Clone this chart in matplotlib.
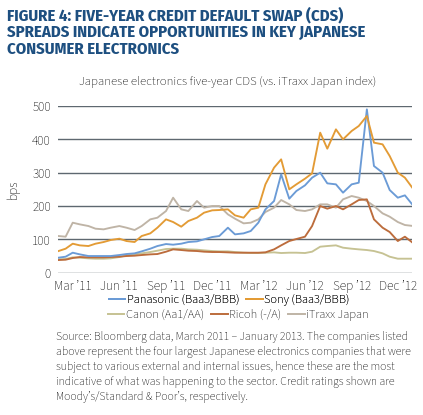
import matplotlib
matplotlib.use('Agg')
import matplotlib.pyplot as plt
import pandas as pd
from matplotlib.lines import Line2D

# ---- data (semi-monthly readings, bps) ----
dates = pd.date_range('2011-02-01', periods=47, freq='SMS')

panasonic = [45, 48, 60, 55, 50, 50, 50, 50, 53, 56, 58, 64, 72,
             80, 86, 84, 87, 92, 94, 100, 107, 110, 135, 115,
             118, 125, 150, 190, 215, 295, 222, 245, 262, 285, 300, 268,
             265, 240, 265, 270, 490, 320, 300, 248, 225, 232, 200]
sony = [65, 72, 87, 82, 80, 87, 92, 98, 102, 95, 92, 110, 118,
        135, 160, 152, 138, 155, 165, 180, 187, 188, 190, 172,
        165, 190, 195, 265, 315, 340, 250, 265, 282, 298, 420, 372,
        430, 400, 425, 440, 470, 390, 385, 350, 300, 285, 250]
canon = [40, 41, 46, 45, 43, 42, 42, 43, 47, 52, 55, 58, 62,
         66, 71, 72, 72, 70, 69, 67, 65, 64, 64, 62,
         60, 59, 59, 60, 61, 59, 60, 60, 59, 63, 78, 80,
         82, 75, 72, 70, 68, 65, 58, 48, 42, 42, 42]
ricoh = [38, 39, 44, 47, 46, 46, 46, 47, 48, 50, 51, 53, 55,
         56, 63, 70, 68, 66, 65, 63, 62, 62, 61, 60,
         60, 60, 60, 61, 70, 82, 95, 101, 108, 140, 200, 192,
         200, 190, 205, 218, 220, 160, 135, 122, 95, 108, 88]
itraxx = [110, 108, 150, 145, 140, 132, 130, 135, 140, 135, 128, 140, 160,
          165, 185, 225, 190, 185, 215, 195, 200, 200, 175, 162,
          148, 150, 160, 182, 195, 218, 205, 188, 185, 190, 205, 205,
          195, 220, 230, 225, 215, 200, 178, 168, 152, 143, 140]

series_names = ['Panasonic (Baa3/BBB)', 'Sony (Baa3/BBB)', 'Canon (Aa1/AA)',
                'Ricoh (-/A)', 'iTraxx Japan']
tick_dates = ['2011-03-01', '2011-06-01', '2011-09-01', '2011-12-01',
              '2012-03-01', '2012-06-01', '2012-09-01', '2012-12-01']
tick_labels = ['Mar \u201911', 'Jun \u201911', 'Sep \u201911', 'Dec \u201911',
               'Mar \u201912', 'Jun \u201912', 'Sep \u201912', 'Dec \u201912']
y_ticks = [0, 100, 200, 300, 400, 500]

colors = {'Panasonic (Baa3/BBB)': '#6b9bd6', 'Sony (Baa3/BBB)': '#e39b35',
          'Canon (Aa1/AA)': '#c6c293', 'Ricoh (-/A)': '#bc6c3c',
          'iTraxx Japan': '#bfb4a6'}

FONT = ['Source Sans 3', 'DejaVu Sans']
TITLE_FONT = ['Fira Sans Condensed', 'Source Sans 3', 'DejaVu Sans']
plt.rcParams['font.family'] = FONT
TXT = '#000000'

W, H = 423, 415
fig = plt.figure(figsize=(W / 100, H / 100), dpi=100)
ax = fig.add_axes([58 / W, 1 - 272.7 / H, (412 - 58) / W, (272.7 - 106) / H])

data = {'Panasonic (Baa3/BBB)': panasonic, 'Sony (Baa3/BBB)': sony,
        'Canon (Aa1/AA)': canon, 'Ricoh (-/A)': ricoh, 'iTraxx Japan': itraxx}
order = ['iTraxx Japan', 'Canon (Aa1/AA)', 'Ricoh (-/A)', 'Panasonic (Baa3/BBB)', 'Sony (Baa3/BBB)']
for name in order:
    ax.plot(dates, data[name], color=colors[name], lw=1.35, zorder=3)

ax.set_ylim(0, 500)
ax.set_yticks(y_ticks)
ax.set_xlim(pd.Timestamp('2011-01-31'), pd.Timestamp('2012-12-29'))
ax.set_xticks(pd.to_datetime(tick_dates))
ax.set_xticklabels(tick_labels)
ax.tick_params(axis='both', length=0, labelsize=9.5, colors=TXT)
ax.tick_params(axis='x', pad=5)
ax.tick_params(axis='y', pad=5)
ax.grid(axis='y', color='#5e6870', lw=1.0, zorder=1)
ax.grid(axis='x', visible=False)
for s in ax.spines.values():
    s.set_visible(False)
ax.set_ylabel('bps', fontsize=9.5, labelpad=9, color=TXT)

# Titles
title_lines = ['FIGURE 4: FIVE-YEAR CREDIT DEFAULT SWAP (CDS)',
               'SPREADS INDICATE OPPORTUNITIES IN KEY JAPANESE',
               'CONSUMER ELECTRONICS']
for i, t in enumerate(title_lines):
    fig.text(7 / W, 1 - (15 + 17 * i) / H, t, fontsize=12, fontweight='bold',
             family=TITLE_FONT, color='#1d4f80', ha='left', va='center')
fig.text(228 / W, 1 - 82 / H, 'Japanese electronics five-year CDS (vs. iTraxx Japan index)',
         fontsize=9.2, ha='center', va='center', color=TXT)

# Legends
def mk(name):
    return Line2D([], [], color=colors[name], lw=1.4)

row1 = series_names[:2]
row2 = series_names[2:]
common = dict(loc='center', frameon=False, fontsize=9, handlelength=1.35,
              handletextpad=0.1, columnspacing=0.55, borderaxespad=0, borderpad=0,
              labelcolor=TXT)
leg1 = fig.legend([mk(n) for n in row1], row1, bbox_to_anchor=(229 / W, 1 - 300 / H),
                  ncol=2, **common)
leg2 = fig.legend([mk(n) for n in row2], row2, bbox_to_anchor=(238 / W, 1 - 315 / H),
                  ncol=3, **common)
fig.add_artist(leg1)

source_lines = [
    'Source: Bloomberg data, March 2011 \u2013 January 2013. The companies listed',
    'above represent the four largest Japanese electronics companies that were',
    'subject to various external and internal issues, hence these are the most',
    'indicative of what was happening to the sector. Credit ratings shown are',
    'Moody\u2019s/Standard & Poor\u2019s, respectively.']
for i, t in enumerate(source_lines):
    fig.text(56 / W, 1 - (337 + 15 * i) / H, t, fontsize=8.5, ha='left', va='center',
             color=TXT)

fig.savefig('out.png', dpi=100)
